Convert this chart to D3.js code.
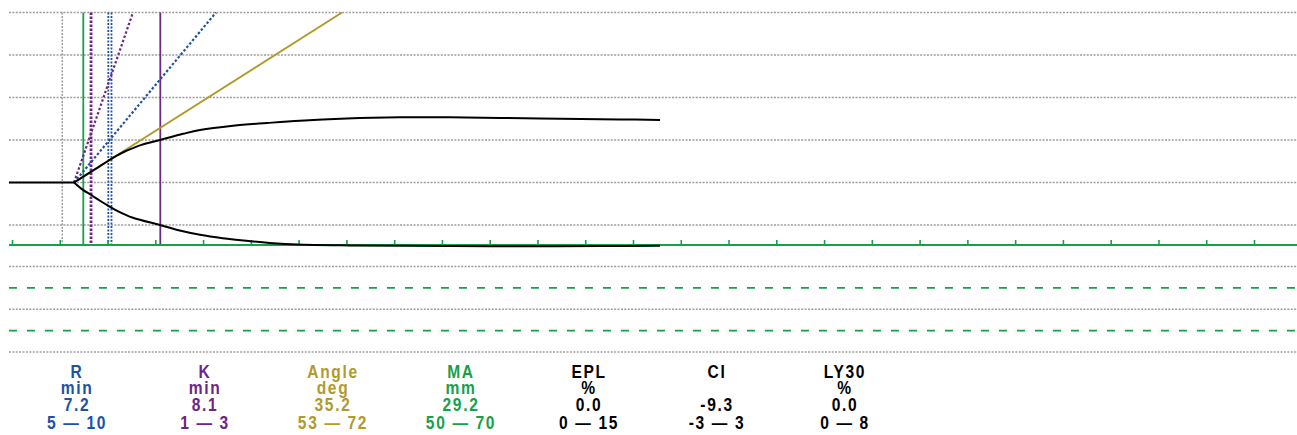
<!DOCTYPE html>
<html>
<head>
<meta charset="utf-8">
<script src="https://cdn.jsdelivr.net/npm/d3@7"></script>
<style>
  html, body { margin: 0; padding: 0; background: #fff; }
  svg { display: block; }
  .lbl { font-family: 'Liberation Sans', Arial, sans-serif; font-weight: bold; }
</style>
</head>
<body>
<svg id="chart"></svg>
<script>
// tracing, time in minutes, amplitude per side in mm
const baselineT = [-0.37, 6.44];
const upperT = [6.44, 7.41, 8.29, 9.16, 10.0, 10.91, 11.8, 12.61, 13.5, 15.44, 17.85, 19.62, 23.08, 26.64, 30.09, 35.0, 40.56, 45.79, 51.03, 57.31, 63.59, 67.78];
const upperMm = [0, 1.38, 2.63, 3.87, 5.06, 6.3, 7.35, 8.1, 8.85, 10.0, 11.45, 12.35, 13.35, 14.0, 14.55, 15.05, 15.33, 15.36, 15.2, 15.0, 14.85, 14.72];
const lowerT = [6.44, 7.41, 8.29, 9.16, 10.0, 10.91, 12.61, 15.44, 17.5, 19.62, 22.0, 24.86, 27.3, 29.78, 35.33, 45.79, 53.12, 61.5, 67.78];
const lowerMm = [0, -1.8, -3.0, -4.3, -5.45, -6.6, -8.3, -10.0, -11.3, -12.3, -13.1, -13.8, -14.3, -14.6, -14.8, -14.94, -15.0, -14.94, -14.89];

// vertical markers (min)
const markerNames = ['Rlow', 'R', 'Kref', 'Rhigh', 'Rhigh2', 'K'];
const markerTimes = [5.21, 7.41, 8.22, 10.03, 10.36, 15.47];

// diagonal lines from the split point, time where they reach the top grid line
const diagNames = ['angleHigh', 'angleLow', 'angle'];
const diagStartT = 6.44;
const diagTopT = [12.61, 21.3, 34.49];

// grid + axis ticks
const gridMm = [40, 30, 20, 10, 0, -10];
const tickMinutes = d3.range(0, 131, 5);
const lowerPanelKinds = ['dot', 'dash', 'dot', 'dash', 'dot'];

// parameter table
const params = ['R', 'K', 'Angle', 'MA', 'EPL', 'CI', 'LY30'];
const units = ['min', 'min', 'deg', 'mm', '%', '', '%'];
const values = ['7.2', '8.1', '35.2', '29.2', '0.0', '-9.3', '0.0'];
const ranges = ['5 \u2014 10', '1 \u2014 3', '53 \u2014 72', '50 \u2014 70', '0 \u2014 15', '-3 \u2014 3', '0 \u2014 8'];

const W = 1297, H = 435;
const BLUE = '#2052a3', PURPLE = '#6e2584', GOLD = '#b09a2c', GREEN = '#17a04a', GRAY = '#9d9d9d';
const paramColors = [BLUE, PURPLE, GOLD, GREEN, '#000', '#000', '#000'];

const svg = d3.select('#chart').attr('width', W).attr('height', H);

const x = d3.scaleLinear().domain([0, 130]).range([12.5, 1254.5]);
const y = d3.scaleLinear().domain([-10, 40]).range([225, 12.5]);
const left = x(baselineT[0]);
const axisY = 245;
const lowerY = d3.scaleLinear().domain([0, 4]).range([266.5, 352]);

// horizontal grid
svg.append('g')
  .selectAll('line')
  .data(gridMm)
  .join('line')
  .attr('x1', left).attr('x2', W)
  .attr('y1', (d) => y(d)).attr('y2', (d) => y(d))
  .attr('stroke', GRAY)
  .attr('stroke-width', 1.5)
  .attr('stroke-dasharray', '2,1.4');

// lower panel
svg.append('g')
  .selectAll('line')
  .data(lowerPanelKinds)
  .join('line')
  .attr('x1', left).attr('x2', W)
  .attr('y1', (d, i) => lowerY(i)).attr('y2', (d, i) => lowerY(i))
  .attr('stroke', (d) => (d === 'dash' ? GREEN : GRAY))
  .attr('stroke-width', (d) => (d === 'dash' ? 1.8 : 1.5))
  .attr('stroke-dasharray', (d) => (d === 'dash' ? '8,10' : '2,1.4'));

// vertical markers
const markerStyle = {
  Rlow: { c: GRAY, w: 1.5, dash: '2,1.4' },
  R: { c: GREEN, w: 1.8, dash: null },
  Kref: { c: PURPLE, w: 2.8, dash: '2.5,1.5' },
  Rhigh: { c: BLUE, w: 1.8, dash: '2,1.5' },
  Rhigh2: { c: BLUE, w: 1.8, dash: '2,1.5' },
  K: { c: PURPLE, w: 1.8, dash: null },
};
svg.append('g')
  .selectAll('line')
  .data(markerNames)
  .join('line')
  .attr('x1', (d, i) => x(markerTimes[i])).attr('x2', (d, i) => x(markerTimes[i]))
  .attr('y1', y(40)).attr('y2', axisY)
  .attr('stroke', (d) => markerStyle[d].c)
  .attr('stroke-width', (d) => markerStyle[d].w)
  .attr('stroke-dasharray', (d) => markerStyle[d].dash);

// diagonals
const diagStyle = {
  angleHigh: { c: PURPLE, w: 2.2, dash: '2.5,2' },
  angleLow: { c: BLUE, w: 2.2, dash: '2.5,2' },
  angle: { c: GOLD, w: 2, dash: null },
};
svg.append('g')
  .selectAll('line')
  .data(diagNames)
  .join('line')
  .attr('x1', x(diagStartT)).attr('y1', y(0))
  .attr('x2', (d, i) => x(diagTopT[i])).attr('y2', y(40))
  .attr('stroke', (d) => diagStyle[d].c)
  .attr('stroke-width', (d) => diagStyle[d].w)
  .attr('stroke-dasharray', (d) => diagStyle[d].dash);

// axis
const axisG = svg.append('g');
axisG.append('line')
  .attr('x1', left).attr('x2', W)
  .attr('y1', axisY).attr('y2', axisY)
  .attr('stroke', GREEN)
  .attr('stroke-width', 2);
axisG.selectAll('line.tick')
  .data(tickMinutes)
  .join('line')
  .attr('class', 'tick')
  .attr('x1', (d) => x(d)).attr('x2', (d) => x(d))
  .attr('y1', axisY).attr('y2', axisY - 5)
  .attr('stroke', GREEN)
  .attr('stroke-width', 1.6);

// tracing
const line = d3.line()
  .x((d) => x(d[0]))
  .y((d) => y(d[1]))
  .curve(d3.curveCatmullRom.alpha(0.5));
const traces = [
  baselineT.map((t) => [t, 0]),
  d3.zip(upperT, upperMm),
  d3.zip(lowerT, lowerMm),
];
svg.append('g')
  .selectAll('path')
  .data(traces)
  .join('path')
  .attr('d', line)
  .attr('fill', 'none')
  .attr('stroke', '#000')
  .attr('stroke-width', 2)
  .attr('stroke-linejoin', 'round');

// parameter table
const col = d3.scalePoint().domain(params).range([76, 844]);
const rows = [params, units, values, ranges];
const rowY = [377.5, 394, 411, 428.5];
const table = svg.append('g').attr('class', 'lbl');
rows.forEach((row, r) => {
  table.selectAll('text.r' + r)
    .data(row)
    .join('text')
    .attr('class', 'r' + r)
    .attr('transform', (d, i) => `translate(${col(params[i]) + 1},${rowY[r]}) scale(0.82,1)`)
    .attr('text-anchor', 'middle')
    .attr('font-size', 19)
    .attr('letter-spacing', 2)
    .attr('fill', (d, i) => paramColors[i])
    .text((d) => d);
});
</script>
</body>
</html>
